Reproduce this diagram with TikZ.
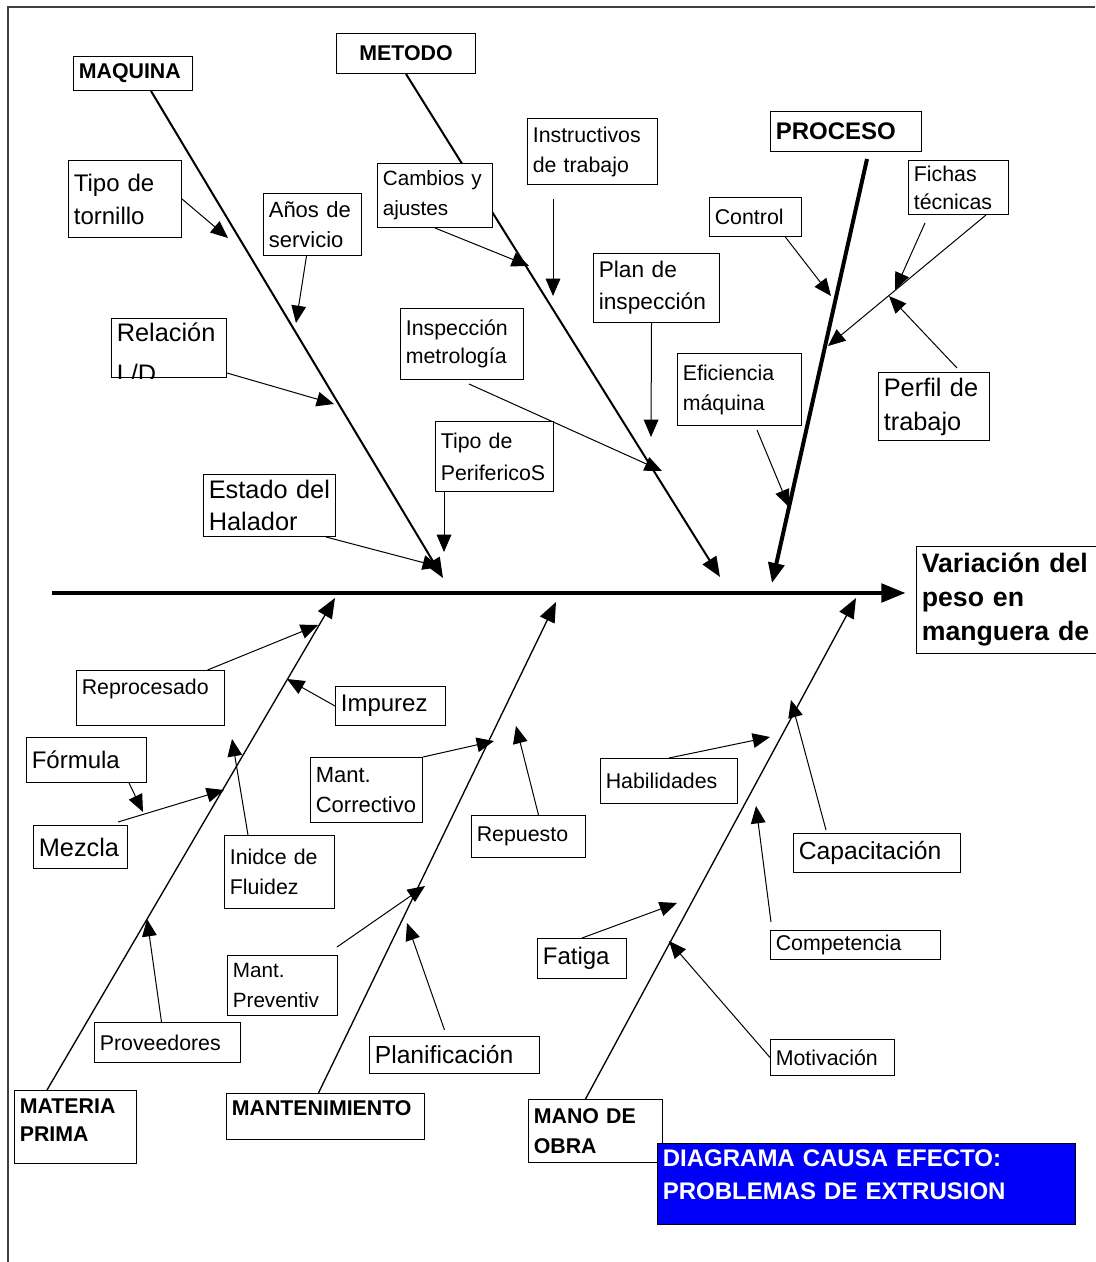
\documentclass[tikz,border=0pt]{standalone}
\usepackage{fontspec}
\setmainfont{Liberation Sans}
\usetikzlibrary{arrows.meta,calc,backgrounds}
\hyphenpenalty=10000
\exhyphenpenalty=10000

\tikzset{every picture/.style={line width=0.75pt}}
\tikzset{
  caja/.style={draw, fill=white, anchor=north west, align=left, inner xsep=4pt, inner ysep=2pt},
  letra/.style 2 args={font=\fontsize{#1}{#2}\selectfont},
  negrita/.style 2 args={font=\fontsize{#1}{#2}\selectfont\bfseries},
  flecha/.style={line width=0.75pt, -{Triangle[length=13pt,width=11pt]}},
  espina/.style={line width=1.5pt, -{Triangle[length=15pt,width=12pt]}},
  lomo/.style={line width=2.5pt, -{Triangle[length=18pt,width=14pt]}},
}

\begin{document}
\begin{tikzpicture}[x=0.75pt,y=0.75pt,yscale=-1,xscale=1]
\useasboundingbox (0,0) rectangle (1095,1262);

\draw [line width=1.5pt, color=black!75] (8,1262) -- (8,7) -- (1095,7);

% efecto
\node [caja, negrita={20}{25.5}, text width=142pt, minimum height=80.25pt] (efecto) at (916,546) {Variación del\\peso en\\manguera de};

% categorias
\node [caja, negrita={16}{21}, text width=81.25pt, minimum height=25.5pt] (maquina) at (73,56) {MAQUINA};
\node [caja, negrita={16}{21}, align=center, text width=96.25pt, minimum height=30pt] (metodo) at (336,33) {METODO};
\node [caja, negrita={18}{24}, text width=105.25pt, minimum height=30pt] (proceso) at (770,111) {PROCESO};
\node [caja, negrita={16}{21}, text width=83.5pt, text height=15pt, text depth=35.75pt] (materia) at (14,1090) {MATERIA\\PRIMA};
\node [caja, negrita={16}{21}, text width=140.5pt, text height=14.5pt, text depth=16pt] (mantenim) at (226,1093) {MANTENIMIENTO};
\node [caja, negrita={16}{22.5}, text width=92.5pt, minimum height=47.25pt] (manoobra) at (528,1099) {MANO DE\\OBRA};

% causas arriba
\node [caja, letra={18}{24.75}, text width=76.75pt, minimum height=57.75pt] (tornillo) at (68,160) {Tipo de\\tornillo};
\node [caja, letra={16.5}{23}, text width=65.5pt, minimum height=46.5pt] (anos) at (263,193) {Años de\\servicio};
\node [caja, letra={15.5}{22.5}, text width=78.25pt, minimum height=48pt] (cambios) at (377,163) {Cambios y\\ajustes};
\node [caja, letra={16}{22.5}, text width=89.5pt, minimum height=49.5pt] (instruc) at (527,118) {Instructivos\\de trabajo};
\node [caja, letra={16}{21}, text width=67pt, minimum height=40.5pt] (fichas) at (908,160) {Fichas\\técnicas};
\node [caja, letra={16}{21}, text width=61pt, minimum height=29.25pt] (control) at (709,197) {Control};
\node [caja, letra={17}{24}, text width=86.5pt, minimum height=51.75pt] (plan) at (593,253) {Plan de\\inspección};
\node [caja, text width=78.25pt, minimum height=44.25pt] (relacion) at (111,318) {};
\begin{scope}
  \clip (relacion.south west) rectangle (relacion.north east);
  \node [anchor=north west, align=left, letra={19}{31}, inner xsep=4pt, inner ysep=3pt] (relaciontxt) at (relacion.north west) {Relación\\L/D};
\end{scope}
\node [caja, letra={16}{21}, text width=84.25pt, minimum height=53.25pt] (inspeccion) at (400,308) {Inspección\\metrología};
\node [caja, letra={16}{22.5}, text width=85pt, minimum height=54pt] (eficiencia) at (677,353) {Eficiencia\\máquina};
\node [caja, letra={19}{25.5}, text width=75.25pt, minimum height=51pt] (perfil) at (878,372) {Perfil de\\trabajo};
\node [caja, letra={16}{24}, text width=80.5pt, minimum height=52.5pt] (perifericos) at (435,421) {Tipo de\\PerifericoS};
\node [caja, letra={19}{24}, text width=91pt, minimum height=46.5pt] (halador) at (203,474) {Estado del\\Halador};

% causas abajo
\node [caja, letra={16}{21}, text width=103pt, text height=16pt, text depth=21pt] (reproc) at (76,670) {Reprocesado};
\node [caja, letra={18}{22}, text width=74.5pt, minimum height=29.25pt] (impurez) at (335,686) {Impurez};
\node [caja, letra={18}{22}, text width=82pt, minimum height=33.75pt] (formula) at (26,737) {Fórmula};
\node [caja, letra={19}{23}, text width=62.5pt, minimum height=32.25pt] (mezcla) at (33,825) {Mezcla};
\node [caja, letra={16}{22.5}, text width=74.5pt, minimum height=54.75pt] (fluidez) at (224,835) {Inidce de\\Fluidez};
\node [caja, letra={16.5}{22.5}, text width=76pt, minimum height=48.75pt] (correctivo) at (310,757) {Mant.\\Correctivo};
\node [caja, letra={16}{21}, text width=77.5pt, minimum height=31.5pt] (repuesto) at (471,815) {Repuesto};
\node [caja, letra={16}{21}, text width=94.75pt, minimum height=33.75pt] (habilidades) at (600,758) {Habilidades};
\node [caja, letra={18.5}{23}, text width=117.25pt, minimum height=29.25pt] (capacitacion) at (793,833) {Capacitación};
\node [caja, letra={18}{22}, text width=58.75pt, minimum height=30pt] (fatiga) at (537,938) {Fatiga};
\node [caja, letra={16}{21}, text width=119.5pt, minimum height=21.75pt] (competencia) at (770,930) {Competencia};
\node [caja, letra={15.5}{22.5}, text width=74.5pt, minimum height=45pt] (preventiv) at (227,955) {Mant.\\Preventiv};
\node [caja, letra={16}{21}, text width=101.5pt, minimum height=30pt] (proveedores) at (94,1022) {Proveedores};
\node [caja, letra={18.5}{23}, text width=119.5pt, minimum height=27.75pt] (planif) at (369,1036) {Planificación};
\node [caja, letra={16}{21}, text width=85pt, minimum height=27pt] (motivacion) at (770,1039) {Motivación};

\node [caja, fill={rgb,255:red,0;green,0;blue,250}, text=white, negrita={18}{25}, text width=305.5pt, text height=15pt, text depth=41.75pt] (titulo) at (657,1143) {DIAGRAMA CAUSA EFECTO:\\PROBLEMAS DE EXTRUSION};

% puntas
\coordinate (cola) at (52,593);
\coordinate (pMaq) at (443,578);
\coordinate (pMet) at (720,577);
\coordinate (pPro) at (772,583);
\coordinate (pMat) at (335,598);
\coordinate (pMan) at (556,602);
\coordinate (pObr) at (856,598);

\coordinate (aTor) at (228,238);
\coordinate (aAno) at (296,323);
\coordinate (aRel) at (334,404);
\coordinate (aHal) at (440,567);
\coordinate (aPer) at (444,552);
\coordinate (aCam) at (529,266);
\coordinate (aIns) at (553,296);
\coordinate (aMet) at (662,471);
\coordinate (aPla) at (651,437);
\coordinate (aEfi) at (789,507);
\coordinate (aCon) at (831,296);
\coordinate (aFi1) at (895,290);
\coordinate (aFi2) at (828,346);
\coordinate (aPrf) at (889,296);

\coordinate (aRep) at (318,625);
\coordinate (aImp) at (287,679);
\coordinate (aFor) at (143,812);
\coordinate (aMez) at (224,790);
\coordinate (aFlu) at (232,739);
\coordinate (aPro) at (147,919);
\coordinate (aCor) at (494,741);
\coordinate (aRpu) at (516,726);
\coordinate (aPre) at (425,886);
\coordinate (aPlf) at (407,923);
\coordinate (aHab) at (770,737);
\coordinate (aCap) at (791,700);
\coordinate (aCom) at (756,806);
\coordinate (aFat) at (677,903);
\coordinate (aMot) at (669,941);

\begin{pgfonlayer}{background}
% lomo y espinas
\draw [lomo, shorten >=8pt] (cola) -- (cola -| efecto.west);
\draw [espina] ($(maquina.south)+(18,0)$) -- (pMaq);
\draw [espina] (metodo.south) -- (pMet);
\draw [espina, line width=3pt] ($(proceso.south)+(21,7)$) -- (pPro);
\draw [espina, line width=1pt] ($(materia.north west)+(33,0)$) -- (pMat);
\draw [espina, line width=1pt] ($(mantenim.north)+(-7,0)$) -- (pMan);
\draw [espina, line width=1pt] ($(manoobra.north)+(-10,0)$) -- (pObr);

% causas
\draw [flecha] (tornillo.east) -- (aTor);
\draw [flecha] ($(anos.south)+(-6,0)$) -- (aAno);
\draw [flecha] ($(relacion.south east)+(0,-5)$) -- (aRel);
\draw [flecha] ($(halador.south east)+(-10,0)$) -- (aHal);
\draw [flecha] ($(perifericos.south west)+(9,0)$) -- (aPer);
\draw [flecha] (cambios.south) -- (aCam);
\draw [flecha] ($(instruc.south west)+(26,14)$) -- (aIns);
\draw [flecha] ($(inspeccion.south)+(7,4)$) -- (aMet);
\draw [flecha] ($(plan.south)+(-5,0)$) -- (aPla);
\draw [flecha] ($(eficiencia.south east)+(-45,4)$) -- (aEfi);
\draw [flecha] ($(control.south east)+(-19,-3)$) -- (aCon);
\draw [flecha] ($(fichas.south west)+(17,8)$) -- (aFi1);
\draw [flecha] ($(fichas.south east)+(-23,0)$) -- (aFi2);
\draw [flecha] ($(perfil.north)+(23,-4)$) -- (aPrf);

\draw [flecha] ($(reproc.north)+(57,0)$) -- (aRep);
\draw [flecha] (impurez.west) -- (aImp);
\draw [flecha] ($(formula.south east)+(-18,0)$) -- (aFor);
\draw [flecha] ($(mezcla.north east)+(-10,-3)$) -- (aMez);
\draw [flecha] ($(fluidez.north west)+(24,0)$) -- (aFlu);
\draw [flecha] ($(proveedores.north)+(-6,0)$) -- (aPro);
\draw [flecha] (correctivo.north east) -- (aCor);
\draw [flecha] ($(repuesto.north)+(10,0)$) -- (aRpu);
\draw [flecha] ($(preventiv.north east)+(-1,-8)$) -- (aPre);
\draw [flecha] ($(planif.north)+(-10,-6)$) -- (aPlf);
\draw [flecha] (habilidades.north) -- (aHab);
\draw [flecha] ($(capacitacion.north west)+(33,-3)$) -- (aCap);
\draw [flecha] ($(competencia.north west)+(1,-8)$) -- (aCom);
\draw [flecha] (fatiga.north) -- (aFat);
\draw [flecha] (motivacion.west) -- (aMot);
\end{pgfonlayer}

\end{tikzpicture}
\end{document}
